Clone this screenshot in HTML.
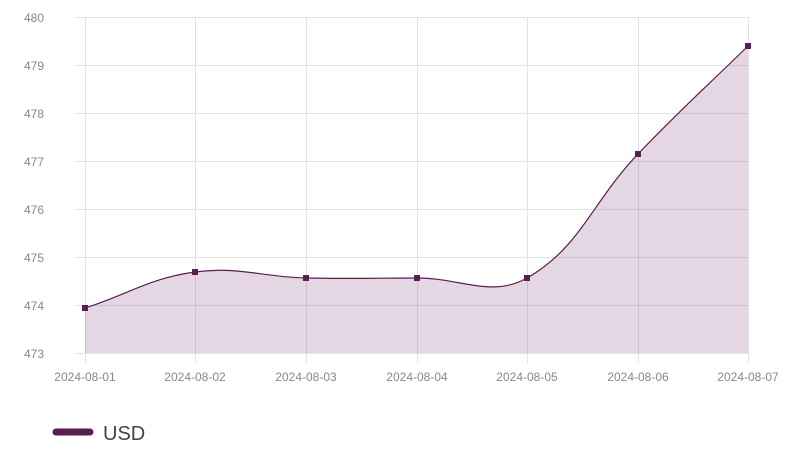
<!DOCTYPE html>
<html><head><style>
body{margin:0;background:#fff;width:800px;height:450px;overflow:hidden;font-family:"Liberation Sans",sans-serif}
</style></head><body>
<svg width="800" height="450" xmlns="http://www.w3.org/2000/svg" style="position:absolute;left:0;top:0">
<g stroke="#e3e3e3" stroke-width="1">
<line x1="75" y1="17.5" x2="748" y2="17.5"/>
<line x1="75" y1="65.5" x2="748" y2="65.5"/>
<line x1="75" y1="113.5" x2="748" y2="113.5"/>
<line x1="75" y1="161.5" x2="748" y2="161.5"/>
<line x1="75" y1="209.5" x2="748" y2="209.5"/>
<line x1="75" y1="257.5" x2="748" y2="257.5"/>
<line x1="75" y1="305.5" x2="748" y2="305.5"/>
<line x1="75" y1="353.5" x2="748" y2="353.5"/>
<line x1="85.5" y1="17" x2="85.5" y2="363"/>
<line x1="195.5" y1="17" x2="195.5" y2="363"/>
<line x1="306.5" y1="17" x2="306.5" y2="363"/>
<line x1="417.5" y1="17" x2="417.5" y2="363"/>
<line x1="527.5" y1="17" x2="527.5" y2="363"/>
<line x1="638.5" y1="17" x2="638.5" y2="363"/>
<line x1="748.5" y1="17" x2="748.5" y2="363"/>
</g>
<path d="M85,308 C129,294 150,278 195,272 C238,266 262,277 306,278 C350,279 373,278 417,278 C461,278 492,298 527,278 C580,248 592,202 638,154 C681,109 704,89 748,46 L748,353 L85,353 Z" fill="rgba(120,50,110,0.2)"/>
<path d="M85,308 C129,294 150,278 195,272 C238,266 262,277 306,278 C350,279 373,278 417,278 C461,278 492,298 527,278 C580,248 592,202 638,154 C681,109 704,89 748,46" fill="none" stroke="#5a1f4f" stroke-width="1.2"/>
<g fill="#5a1f4f">
<rect x="82" y="305" width="6" height="6"/><rect x="192" y="269" width="6" height="6"/>
<rect x="303" y="275" width="6" height="6"/><rect x="414" y="275" width="6" height="6"/>
<rect x="524" y="275" width="6" height="6"/><rect x="635" y="151" width="6" height="6"/>
<rect x="745" y="43" width="6" height="6"/>
</g>
<g font-size="12" fill="#888" text-anchor="end">
<text x="44" y="22">480</text><text x="44" y="70">479</text><text x="44" y="118">478</text>
<text x="44" y="166">477</text><text x="44" y="214">476</text><text x="44" y="262">475</text>
<text x="44" y="310">474</text><text x="44" y="358">473</text>
</g>
<g font-size="12" fill="#888" text-anchor="middle">
<text x="85" y="381">2024-08-01</text><text x="195" y="381">2024-08-02</text>
<text x="306" y="381">2024-08-03</text><text x="417" y="381">2024-08-04</text>
<text x="527" y="381">2024-08-05</text><text x="638" y="381">2024-08-06</text>
<text x="748" y="381">2024-08-07</text>
</g>
<line x1="56" y1="432" x2="90" y2="432" stroke="#5a1f4f" stroke-width="7" stroke-linecap="round"/>
<text x="103" y="440" font-size="20" fill="#444">USD</text>
</svg>
</body></html>
